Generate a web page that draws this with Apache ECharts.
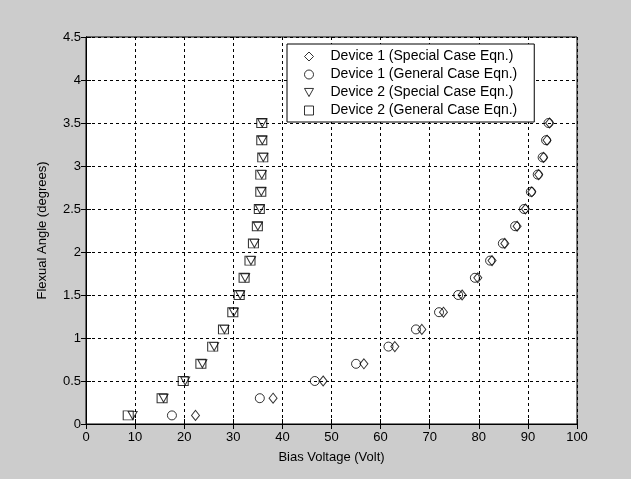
<!DOCTYPE html>
<html>
<head>
<meta charset="utf-8">
<script src="https://cdn.jsdelivr.net/npm/echarts@6/dist/echarts.min.js"></script>
<style>
  html, body { margin: 0; padding: 0; background: #cccccc; }
  #main { width: 631px; height: 479px; }
</style>
</head>
<body>
<div id="main"></div>
<script>
// flexual angle values shared by every series (degrees)
const angles = [0.1, 0.3, 0.5, 0.7, 0.9, 1.1, 1.3, 1.5, 1.7, 1.9, 2.1, 2.3, 2.5, 2.7, 2.9, 3.1, 3.3, 3.5]

// bias voltage (Volt)
const dev1Special = [22.3, 38.1, 48.3, 56.6, 62.9, 68.4, 72.8, 76.6, 79.8, 82.7, 85.3, 87.8, 89.5, 90.8, 92.2, 93.2, 93.9, 94.4]
const dev1General = [17.5, 35.4, 46.6, 55.0, 61.6, 67.2, 71.9, 75.8, 79.2, 82.3, 84.9, 87.4, 89.2, 90.6, 92.0, 93.0, 93.7, 94.2]
const dev2Special = [9.5, 15.8, 20.2, 23.7, 26.1, 28.2, 30.1, 31.4, 32.4, 33.6, 34.3, 35.0, 35.4, 35.7, 35.8, 36.1, 35.9, 35.9]
const dev2General = [8.6, 15.5, 19.8, 23.4, 25.8, 28.0, 29.9, 31.2, 32.2, 33.4, 34.1, 34.9, 35.3, 35.6, 35.6, 36.0, 35.8, 35.8]

const seriesNames = ['Device 1 (Special Case Eqn.)', 'Device 1 (General Case Eqn.)',
  'Device 2 (Special Case Eqn.)', 'Device 2 (General Case Eqn.)']

const font = 'Liberation Sans, Arial, sans-serif'
const markStyle = { color: 'rgba(0,0,0,0)', borderColor: '#000', borderWidth: 1 }

function pairs (xs) {
  const out = []
  for (let i = 0; i < xs.length; i++) {
    out.push([xs[i], angles[i]])
  }
  return out
}

const chart = echarts.init(document.getElementById('main'))

const xCommon = {
  type: 'value',
  min: 0,
  max: 100,
  interval: 10,
  axisLine: { show: true, lineStyle: { color: '#000', width: 1 } },
  axisTick: { show: true, inside: true, length: 5, lineStyle: { color: '#000' } }
}
const yCommon = {
  type: 'value',
  min: 0,
  max: 4.5,
  interval: 0.5,
  axisLine: { show: true, lineStyle: { color: '#000', width: 1 } },
  axisTick: { show: true, inside: true, length: 5, lineStyle: { color: '#000' } }
}

const option = {
  backgroundColor: '#cccccc',
  animation: false,
  textStyle: { fontFamily: font },
  grid: {
    left: 86,
    right: 54,
    top: 37,
    bottom: 55,
    show: true,
    backgroundColor: '#fff',
    borderColor: '#000',
    borderWidth: 1
  },
  legend: {
    orient: 'vertical',
    left: 287,
    top: 44,
    data: seriesNames,
    backgroundColor: '#fff',
    borderColor: '#000',
    borderWidth: 1,
    borderRadius: 0,
    padding: [5, 17, 4, 17],
    itemWidth: 9,
    itemHeight: 9,
    itemGap: 3,
    itemStyle: { color: 'rgba(0,0,0,0)', borderColor: '#000', borderWidth: 1 },
    textStyle: { fontFamily: font, fontSize: 14, color: '#000', lineHeight: 15, padding: [0, 0, 0, 12] }
  },
  xAxis: [
    Object.assign({}, xCommon, {
      position: 'bottom',
      name: 'Bias Voltage (Volt)',
      nameLocation: 'middle',
      nameGap: 27,
      nameTextStyle: { fontFamily: font, fontSize: 13, color: '#000' },
      axisLabel: { fontFamily: font, fontSize: 13, color: '#000', margin: 7 },
      splitLine: { show: true, lineStyle: { color: '#000', type: [3, 3], width: 1 } }
    }),
    Object.assign({}, xCommon, {
      position: 'top',
      axisLabel: { show: false },
      splitLine: { show: false }
    })
  ],
  yAxis: [
    Object.assign({}, yCommon, {
      position: 'left',
      name: 'Flexual Angle (degrees)',
      nameLocation: 'middle',
      nameGap: 37,
      nameTextStyle: { fontFamily: font, fontSize: 13, color: '#000' },
      axisLabel: { fontFamily: font, fontSize: 13, color: '#000', margin: 5 },
      splitLine: { show: true, lineStyle: { color: '#000', type: [3, 3], width: 1 } }
    }),
    Object.assign({}, yCommon, {
      position: 'right',
      axisLabel: { show: false },
      splitLine: { show: false }
    })
  ],
  series: [
    {
      name: seriesNames[0],
      type: 'scatter',
      symbol: 'diamond',
      symbolSize: [8, 10],
      itemStyle: markStyle,
      data: pairs(dev1Special)
    },
    {
      name: seriesNames[1],
      type: 'scatter',
      symbol: 'circle',
      symbolSize: 9,
      itemStyle: markStyle,
      data: pairs(dev1General)
    },
    {
      name: seriesNames[2],
      type: 'scatter',
      symbol: 'path://M0,0L10,0L5,9Z',
      symbolSize: [9, 8],
      itemStyle: markStyle,
      data: pairs(dev2Special)
    },
    {
      name: seriesNames[3],
      type: 'scatter',
      symbol: 'rect',
      symbolSize: [10, 9],
      itemStyle: markStyle,
      data: pairs(dev2General)
    }
  ]
}

chart.setOption(option)
</script>
</body>
</html>
